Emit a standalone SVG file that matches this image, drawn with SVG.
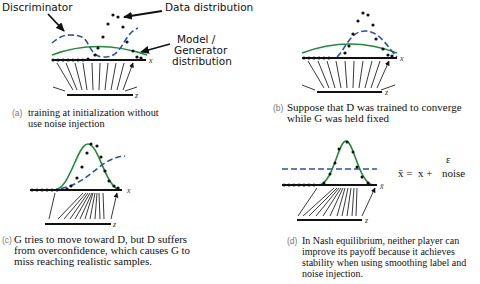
<svg xmlns="http://www.w3.org/2000/svg" width="480" height="284" viewBox="0 0 480 284">
<defs>
<marker id="ah" markerWidth="5" markerHeight="5" refX="4.5" refY="2.5" orient="auto" markerUnits="userSpaceOnUse">
<path d="M0,0 L5,2.5 L0,5 Z" fill="#111"/>
</marker>
<marker id="big" markerWidth="9" markerHeight="8" refX="8" refY="4" orient="auto" markerUnits="userSpaceOnUse">
<path d="M0,0 L9,4 L0,8 Z" fill="#111"/>
</marker>
</defs>
<style>
.axis{stroke:#111;stroke-width:2;fill:none}
.zl{stroke:#111;stroke-width:1.8;fill:none}
.fan{stroke:#222;stroke-width:0.9;fill:none;marker-end:url(#ah)}
.side{stroke:#222;stroke-width:0.9;fill:none}
.gen{stroke:#1e8c3a;stroke-width:1.6;fill:none}
.disc{stroke:#2f4fa8;stroke-width:1.6;fill:none;stroke-dasharray:6,3}
.ann{stroke:#111;stroke-width:1.8;fill:none;marker-end:url(#big)}
.dot{fill:#111}
.lbl{font-family:"DejaVu Sans",sans-serif;font-size:10.5px;fill:#111}
.var{font-family:"Liberation Serif",serif;font-style:italic;font-size:8px;fill:#333}
.cap{font-family:"Liberation Serif",serif;fill:#111}
.tag{font-family:"Liberation Sans",sans-serif;font-size:8.5px;fill:#777}
.fx{font-family:"Liberation Serif",serif;font-size:11px;fill:#111}
</style>

<g id="labels">
<text class="lbl" x="2" y="11">Discriminator</text>
<text class="lbl" x="165" y="11">Data distribution</text>
<text class="lbl" x="177" y="43">Model /</text>
<text class="lbl" x="174" y="54">Generator</text>
<text class="lbl" x="172" y="65">distribution</text>
</g>

<g id="connectors">
<path class="ann" d="M48,14 L64,31"/>
<path class="ann" d="M162,11 L124,17"/>
<path class="ann" d="M170,44 L141,52"/>
</g>

<g id="panel-a">
<path class="gen" d="M52,55 Q97,38 147,55"/>
<path class="disc" d="M52,43 C58,38 63,35 70,35 C78,35 83,36 87,42 C91,50 95,57 103,57 C110,57 114,56 119,50 C124,44 128,32 138,28"/>
<path class="axis" d="M52,60 H146"/>
<g class="dot">
<circle cx="53" cy="60" r="1.6"/><circle cx="58" cy="60" r="1.6"/><circle cx="63" cy="60" r="1.6"/><circle cx="68" cy="60" r="1.6"/><circle cx="73" cy="60" r="1.6"/><circle cx="78" cy="60" r="1.6"/><circle cx="83" cy="60" r="1.6"/><circle cx="88" cy="59" r="1.6"/>
<circle cx="113" cy="15" r="1.6"/><circle cx="118" cy="17" r="1.6"/><circle cx="108" cy="24" r="1.6"/><circle cx="123" cy="27" r="1.6"/><circle cx="103" cy="37" r="1.6"/><circle cx="127" cy="42" r="1.6"/><circle cx="98" cy="48" r="1.6"/><circle cx="95" cy="55" r="1.6"/><circle cx="133" cy="51" r="1.6"/><circle cx="137" cy="57" r="1.6"/><circle cx="141" cy="58" r="1.6"/>
</g>
<text class="var" x="149" y="63">x</text>
<path class="side" d="M53,87 L65,91 M125,91 L137,87"/>
<path class="zl" d="M67,95 H133"/>
<text class="var" x="135" y="98">z</text>
<path class="fan" d="M73,90 L57,63 M77,90 L66,63 M82,90 L75,63 M87,90 L83,63 M93,90 L92,63 M99,90 L100,63 M105,90 L108,63 M111,90 L116,63 M117,90 L124,63 M123,90 L133,63"/>
<text class="tag" x="12" y="116">(a)</text>
<g class="cap" font-size="10.3px">
<text x="28" y="116">training at initialization without</text>
<text x="28" y="127">use noise injection</text>
</g>
</g>

<g id="panel-b">
<path class="gen" d="M302,53 Q350,35 397,53"/>
<path class="disc" d="M337,57 C345,50 350,31 365,31 C380,31 388,48 397,57"/>
<path class="axis" d="M302,58 H397"/>
<g class="dot">
<circle cx="304" cy="58" r="1.6"/><circle cx="309" cy="58" r="1.6"/><circle cx="314" cy="58" r="1.6"/><circle cx="319" cy="58" r="1.6"/><circle cx="324" cy="58" r="1.6"/><circle cx="329" cy="58" r="1.6"/>
<circle cx="363" cy="13" r="1.6"/><circle cx="368" cy="15" r="1.6"/><circle cx="358" cy="21" r="1.6"/><circle cx="373" cy="25" r="1.6"/><circle cx="353" cy="34" r="1.6"/><circle cx="376" cy="39" r="1.6"/><circle cx="349" cy="46" r="1.6"/><circle cx="345" cy="53" r="1.6"/><circle cx="383" cy="49" r="1.6"/><circle cx="388" cy="55" r="1.6"/><circle cx="392" cy="56" r="1.6"/>
</g>
<text class="var" x="400" y="61">x</text>
<path class="side" d="M302,85 L315,90 M381,90 L395,85"/>
<path class="zl" d="M317,92 H382"/>
<text class="var" x="385" y="95">z</text>
<path class="fan" d="M324,88 L308,61 M329,88 L318,61 M335,88 L327,61 M341,88 L336,61 M347,88 L345,61 M353,88 L354,61 M359,88 L363,61 M365,88 L372,61 M371,88 L380,61 M377,88 L389,61"/>
<text class="tag" x="273" y="111">(b)</text>
<g class="cap" font-size="11px">
<text x="287" y="111">Suppose that D was trained to converge</text>
<text x="287" y="121.5">while G was held fixed</text>
</g>
</g>

<g id="panel-c">
<path class="gen" d="M54,190 C70,190 77,144 88,144 C99,144 106,190 121,190"/>
<path class="disc" d="M52,190 C75,188 88,176 98,168 C108,160 115,157 125,156"/>
<path class="axis" d="M30,190 H122"/>
<g class="dot">
<circle cx="32" cy="190" r="1.6"/><circle cx="37" cy="190" r="1.6"/><circle cx="42" cy="190" r="1.6"/><circle cx="47" cy="190" r="1.6"/><circle cx="52" cy="190" r="1.6"/><circle cx="57" cy="190" r="1.6"/>
<circle cx="91" cy="144" r="1.6"/><circle cx="97" cy="146" r="1.6"/><circle cx="87" cy="153" r="1.6"/><circle cx="101" cy="157" r="1.6"/><circle cx="82" cy="167" r="1.6"/><circle cx="105" cy="171" r="1.6"/><circle cx="77" cy="178" r="1.6"/><circle cx="109" cy="181" r="1.6"/><circle cx="71" cy="186" r="1.6"/><circle cx="67" cy="189" r="1.6"/><circle cx="114" cy="186" r="1.6"/><circle cx="118" cy="188" r="1.6"/>
</g>
<text class="var" x="127" y="193">x</text>
<path class="zl" d="M45,224 H111"/>
<text class="var" x="113" y="227">z</text>
<path class="fan" d="M49,219 L55,193 M58,219 L83,193 M64,219 L86,193 M70,219 L88,193 M75,219 L90,193 M80,219 L92,193 M85,219 L93,193 M90,219 L95,193 M95,219 L97,193 M100,219 L99,193 M104,219 L103,193 M111,219 L117,193"/>
<text class="tag" x="2" y="243">(c)</text>
<g class="cap" font-size="10.9px">
<text x="14" y="243">G tries to move toward D, but D suffers</text>
<text x="14" y="254">from overconfidence, which causes G to</text>
<text x="14" y="265">miss reaching realistic samples.</text>
</g>
</g>

<g id="panel-d">
<path class="disc" d="M282,169 H377"/>
<path class="gen" d="M318,185 C333,185 338,141 346,141 C354,141 359,185 374,185"/>
<path class="axis" d="M282,185 H377"/>
<g class="dot">
<circle cx="284" cy="185" r="1.5"/><circle cx="289" cy="185" r="1.5"/><circle cx="294" cy="185" r="1.5"/><circle cx="299" cy="185" r="1.5"/><circle cx="304" cy="185" r="1.5"/><circle cx="309" cy="185" r="1.5"/><circle cx="314" cy="185" r="1.5"/>
<circle cx="339" cy="149" r="1.5"/><circle cx="347" cy="142" r="1.5"/><circle cx="353" cy="152" r="1.5"/><circle cx="335" cy="163" r="1.5"/><circle cx="357" cy="167" r="1.5"/><circle cx="330" cy="174" r="1.5"/><circle cx="362" cy="177" r="1.5"/><circle cx="324" cy="183" r="1.5"/><circle cx="368" cy="183" r="1.5"/>
</g>
<text class="var" x="380" y="189">x̄</text>
<path class="zl" d="M297,220 H362"/>
<text class="var" x="365" y="223">z</text>
<path class="fan" d="M298,216 L317,188 M303,216 L334,188 M309,216 L337,188 M316,216 L339,188 M323,216 L341,188 M330,216 L343,188 M337,216 L345,188 M342,216 L348,188 M347,216 L351,188 M352,216 L354,188 M356,216 L357,188 M362,216 L375,188"/>
<text class="fx" x="446" y="163">ε</text>
<text class="fx" x="398" y="177" font-size="11.5px" xml:space="preserve">x̄ =  x +</text>
<text class="fx" x="442" y="177">noise</text>
<text class="tag" x="287" y="244">(d)</text>
<g class="cap" font-size="10px">
<text x="302" y="244">In Nash equilibrium, neither player can</text>
<text x="302" y="255">improve its payoff because it achieves</text>
<text x="302" y="266">stability when using smoothing label and</text>
<text x="302" y="277">noise injection.</text>
</g>
</g>
</svg>
